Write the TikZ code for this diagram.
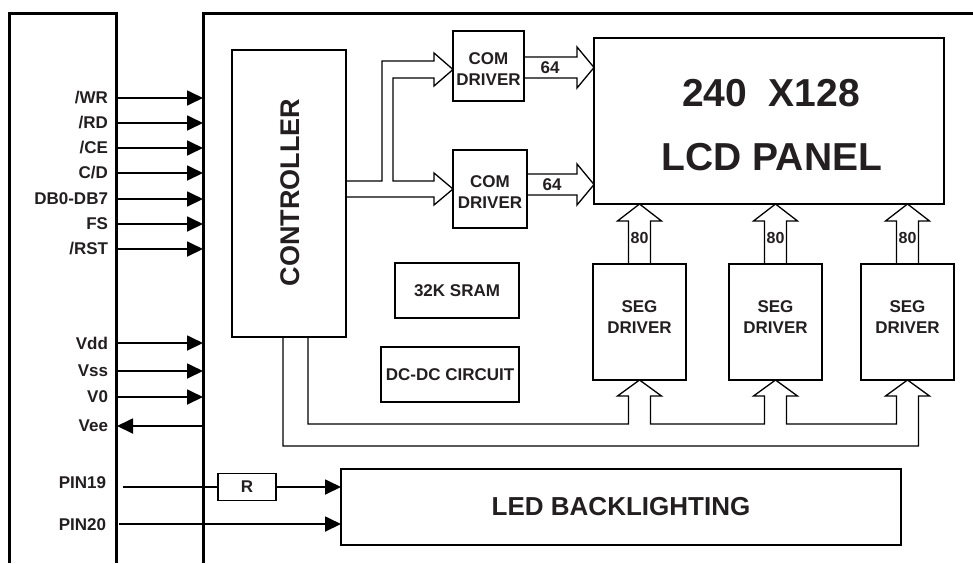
\documentclass[tikz,border=0pt]{standalone}
\usepackage{fontspec}
\setmainfont{Liberation Sans}
\usetikzlibrary{arrows.meta}
\definecolor{ink}{HTML}{231F20}
\begin{document}
\begin{tikzpicture}[x=1pt,y=-1pt,
  box/.style={draw, line width=1.2pt, inner sep=0pt, outer sep=0pt},
  txt/.style={inner sep=0pt, outer sep=0pt, text=ink, font=\bfseries\fontsize{17}{21.5}\selectfont, align=center},
  lab/.style={txt, anchor=east},
  sig/.style={line width=1.8pt, -{Triangle[length=16pt,width=15pt]}},
  bus/.style={line width=1.3pt, line join=miter},
  heavy/.style={line width=3pt, line join=miter}]
\useasboundingbox (0,0) rectangle (973,563);
% outlines
\draw[heavy] (9,563) -- (9,13) -- (116,13) -- (116,563);
\draw[heavy] (203,563) -- (203,13) -- (973,13);
\coordinate (cr) at (116,13);
\coordinate (ml) at (203,13);
% boxes
\node[box, minimum width=114pt, minimum height=287pt] (ctrl) at (289,193.5) {};
\node[txt, rotate=90, font=\bfseries\fontsize{27}{27}\selectfont] (ctrlt) at (290,192.5) {CONTROLLER};
\node[box, minimum width=71pt, minimum height=70pt] (com1) at (488.5,66) {};
\node[txt] (com1t) at (488.5,69) {COM\\DRIVER};
\node[box, minimum width=74pt, minimum height=78pt] (com2) at (490,189) {};
\node[txt] (com2t) at (490,192) {COM\\DRIVER};
\node[box, minimum width=350pt, minimum height=166pt] (lcd) at (769,121) {};
\node[txt, font=\bfseries\fontsize{39}{39}\selectfont] (lcdt1) at (771,93) {240\ \ X128};
\node[txt, font=\bfseries\fontsize{39}{39}\selectfont] (lcdt2) at (772,157) {LCD PANEL};
\node[box, minimum width=93pt, minimum height=116pt] (seg1) at (639.5,322) {};
\node[box, minimum width=93pt, minimum height=116pt] (seg2) at (775.5,322) {};
\node[box, minimum width=93pt, minimum height=116pt] (seg3) at (907.5,322) {};
\foreach \s in {seg1,seg2,seg3}{
  \node[txt] (\s t) at ([yshift=5pt]\s.center) {SEG\\DRIVER};
  \draw[bus] ([xshift=-11pt]\s.north) -- ++(0,-43) -- ++(-11,0) -- ++(22,-17) -- ++(22,17) -- ++(-11,0) -- ++(0,43);
  \node[txt, font=\bfseries\fontsize{16}{16}\selectfont] (\s n) at ([yshift=26pt]\s.north) {80};
}
\node[box, minimum width=124pt, minimum height=55pt, txt] (sram) at (457,290.5) {32K SRAM};
\node[box, minimum width=138pt, minimum height=55pt, txt] (dcdc) at (450,374.5) {DC-DC CIRCUIT};
\node[box, minimum width=560pt, minimum height=76pt, txt, font=\bfseries\fontsize{26}{26}\selectfont] (led) at (621,507) {LED BACKLIGHTING};
\node[box, minimum width=58pt, minimum height=27pt, txt] (r) at (247,487) {R};
% controller -> COM drivers bus
\draw[bus] (ctrl.east |- 0,181) -- (382,181) -- (382,61) -- (434,61) -- (434,53) -- (com1.west |- 0,69.5) -- (434,86) -- (434,78) -- (393,78) -- (393,181) -- (434,181) -- (434,173) -- (com2.west |- 0,189) -- (434,205) -- (434,197) -- (ctrl.east |- 0,197);
% COM -> LCD
\draw[bus] (com1.east |- 0,57) -- (577,57) -- (577,47) -- (lcd.west |- 0,67.5) -- (577,88) -- (577,78) -- (com1.east |- 0,78);
\node[txt] (n64a) at (550,68) {64};
\draw[bus] (com2.east |- 0,174) -- (577,174) -- (577,164) -- (lcd.west |- 0,184.5) -- (577,205) -- (577,195) -- (com2.east |- 0,195);
\node[txt] (n64b) at (552,185) {64};
% controller -> SEG drivers bus
\draw[bus] ([xshift=19pt]ctrl.south) -- (308,424) -- (628.5,424) -- (628.5,396) -- (617.5,396) -- (seg1.south) -- (661.5,396) -- (650.5,396) -- (650.5,424) -- (764.5,424) -- (764.5,396) -- (753.5,396) -- (seg2.south) -- (797.5,396) -- (786.5,396) -- (786.5,424) -- (896.5,424) -- (896.5,396) -- (885.5,396) -- (seg3.south) -- (929.5,396) -- (918.5,396) -- (918.5,446) -- (283,446) -- ([xshift=-6pt]ctrl.south);
% interface signals
\foreach \n/\t/\y in {wr/{/WR}/98, rd/{/RD}/123, ce/{/CE}/148, cd/{C/D}/173, db/{DB0-DB7}/199, fs/{FS}/224, rst/{/RST}/249, vdd/{Vdd}/343, vss/{Vss}/371, vz/{V0}/397}{
  \node[lab] (\n) at (108,\y) {\t};
  \draw[sig] ([xshift=2pt]\n -| cr) -- (\n -| ml);
}
\node[lab] (vee) at (108,426) {Vee};
\draw[sig] (vee -| ml) -- ([xshift=1pt]vee -| cr);
\node[lab] (p19) at (106,482.5) {PIN19};
\node[lab] (p20) at (106,524.5) {PIN20};
\coordinate (p19s) at (123,487);
\coordinate (p20s) at (119,524);
\draw[line width=1.8pt] (p19s) -- (r.west);
\draw[sig] (r.east) -- (led.west |- r.east);
\draw[sig] (p20s) -- (led.west |- p20s);
\end{tikzpicture}
\end{document}
